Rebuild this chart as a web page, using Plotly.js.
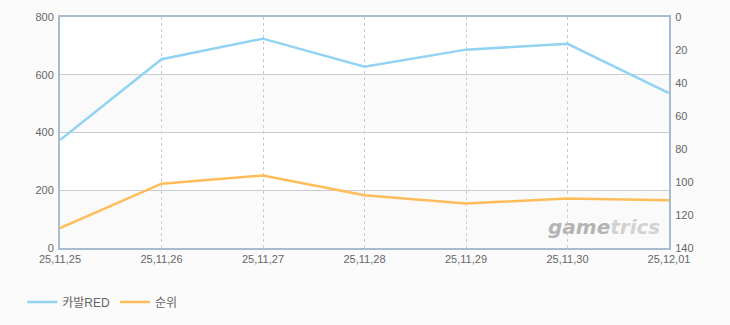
<!DOCTYPE html>
<html>
<head>
<meta charset="utf-8">
<script src="https://cdn.plot.ly/plotly-3.0.1.min.js"></script>
<style>
html,body{margin:0;padding:0;background:#fbfbfb;}
#chart{width:730px;height:325px;}
</style>
</head>
<body>
<div id="chart"></div>
<script>
const categories = ["25,11,25","25,11,26","25,11,27","25,11,28","25,11,29","25,11,30","25,12,01"];
const kabalRed = [374, 654, 725, 628, 687, 707, 536];
const rank = [128, 101, 96, 108, 113, 110, 111];
const leftTicks = [0, 200, 400, 600, 800];
const rightTicks = [0, 20, 40, 60, 80, 100, 120, 140];
const seriesNames = ["카발RED", "순위"];

const fontFam = "'Liberation Sans', 'Noto Sans CJK KR', sans-serif";

const traces = [
  {x: categories, y: kabalRed, name: seriesNames[0], type: 'scatter', mode: 'lines',
   line: {color: '#92d2f2', width: 2.5}, yaxis: 'y'},
  {x: categories, y: rank, name: seriesNames[1], type: 'scatter', mode: 'lines',
   line: {color: '#ffbd5a', width: 2.5}, yaxis: 'y2'}
];

const bands = [];
for (let i = 0; i < leftTicks.length - 1; i += 2) {
  bands.push({type: 'rect', xref: 'paper', yref: 'y', x0: 0, x1: 1,
    y0: leftTicks[i], y1: leftTicks[i+1], fillcolor: '#fafafa', line: {width: 0}, layer: 'below'});
}

const layout = {
  width: 730, height: 325,
  margin: {l: 60, r: 61, t: 17, b: 77, autoexpand: false},
  paper_bgcolor: '#fbfbfb',
  plot_bgcolor: '#ffffff',
  font: {family: fontFam, size: 11, color: '#666'},
  showlegend: true,
  legend: {orientation: 'h', x: -0.062, y: -0.234, yanchor: 'middle', xanchor: 'left',
    itemwidth: 30, font: {size: 12, color: '#666'}, bgcolor: 'rgba(0,0,0,0)', traceorder: 'normal'},
  xaxis: {type: 'category', range: [0, categories.length - 1],
    showgrid: true, gridcolor: '#cccccc', griddash: '3px,3px', gridwidth: 1,
    showline: true, linecolor: '#a8bbd0', linewidth: 2, mirror: true,
    ticks: '', tickfont: {size: 11, color: '#666'}, zeroline: false},
  yaxis: {range: [0, 800], tickvals: leftTicks, showgrid: true, gridcolor: '#cccccc', gridwidth: 1,
    showline: true, linecolor: '#a8bbd0', linewidth: 2, zeroline: false, ticks: '',
    tickfont: {size: 11, color: '#666'}, ticklabelstandoff: 2},
  yaxis2: {range: [140, 0], tickvals: rightTicks, overlaying: 'y', side: 'right',
    showgrid: false, showline: true, linecolor: '#a8bbd0', linewidth: 2, zeroline: false, ticks: '',
    tickfont: {size: 11, color: '#666'}, ticklabelstandoff: 2},
  shapes: bands,
  annotations: [{
    xref: 'paper', yref: 'paper', x: 0.893, y: 0.09, xanchor: 'center', yanchor: 'middle',
    showarrow: false,
    text: "<b><i><span style='color:#b4b4b4'>game</span><span style='color:#d2d2d2'>trics</span></i></b>",
    font: {family: "'DejaVu Sans', sans-serif", size: 20}
  }]
};

Plotly.newPlot('chart', traces, layout, {displayModeBar: false, staticPlot: true});
</script>
</body>
</html>
